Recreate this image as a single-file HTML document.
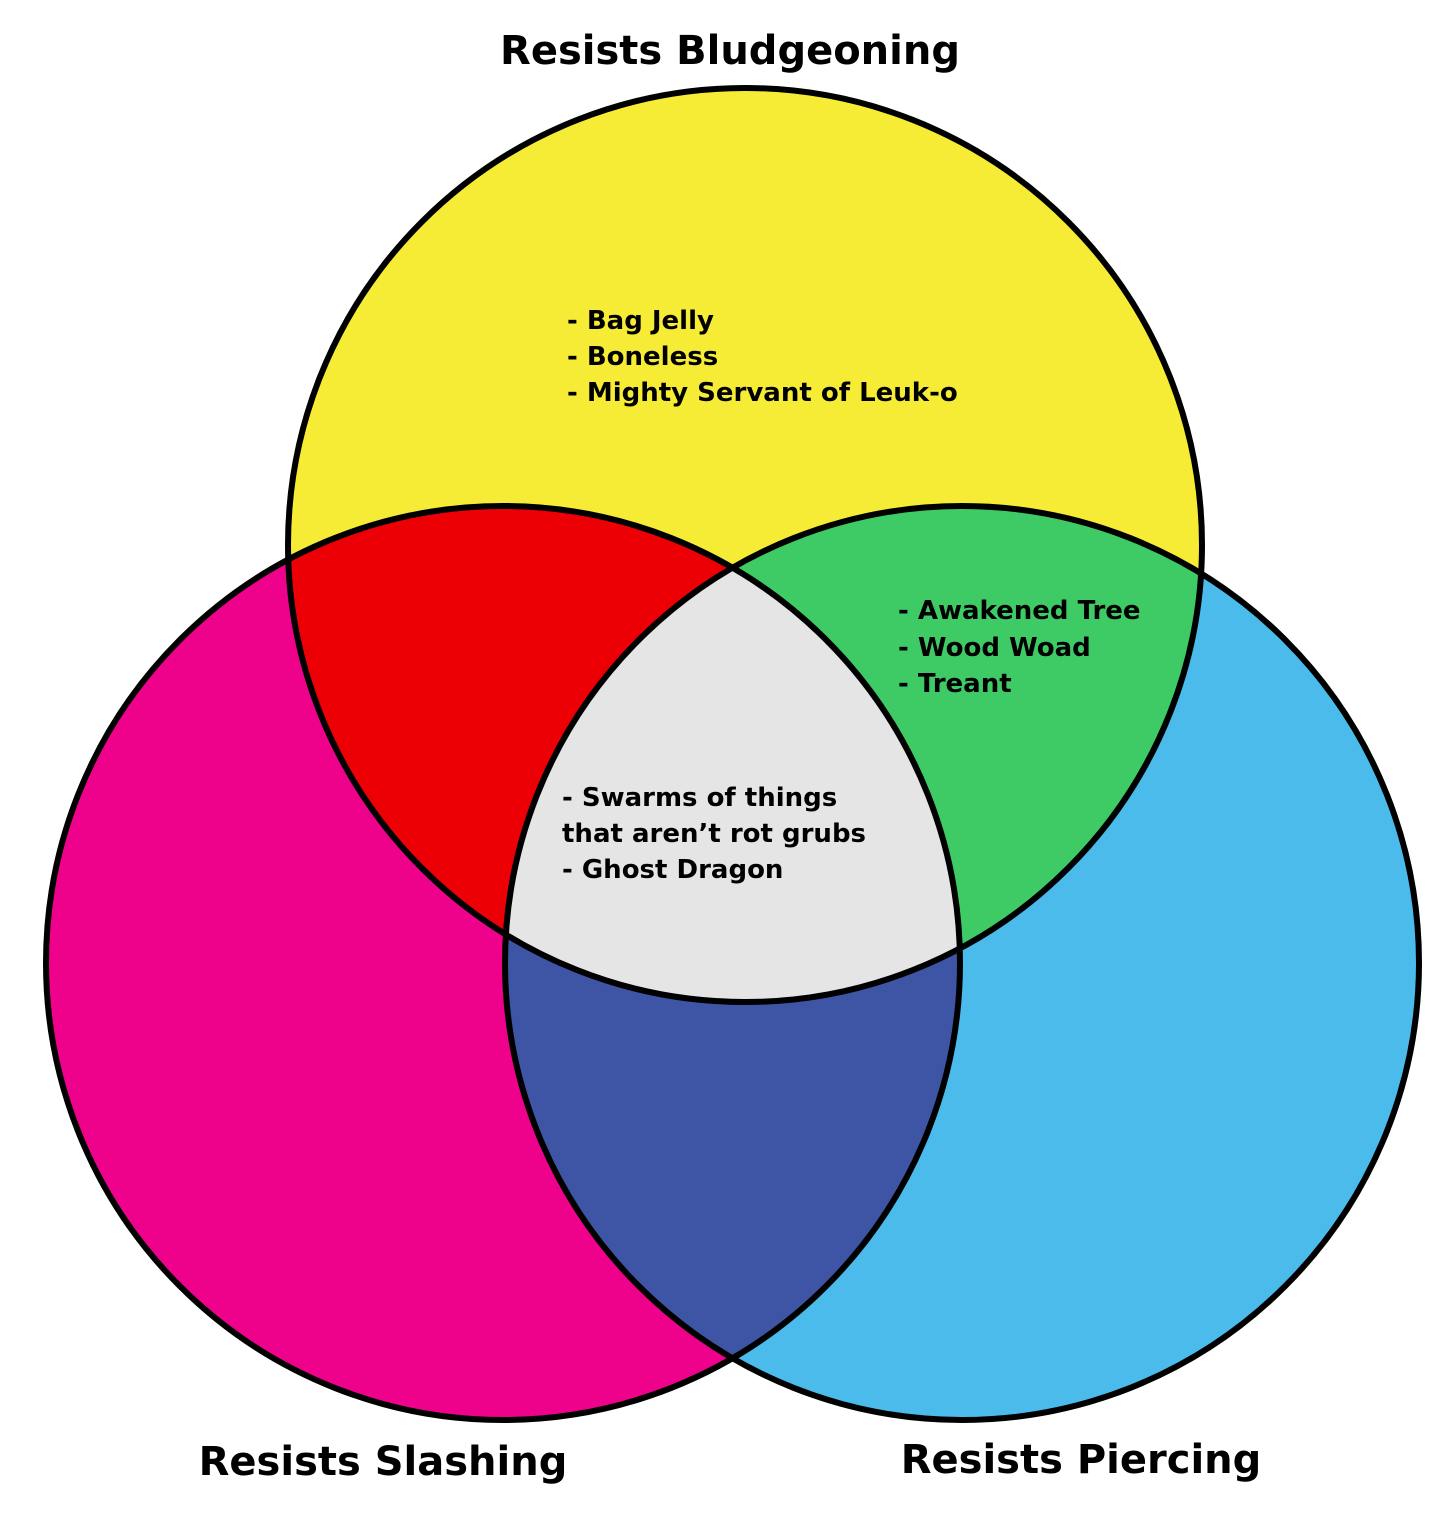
<!DOCTYPE html>
<html><head><meta charset="utf-8"><style>
html,body{margin:0;padding:0;background:#fff;}
svg{display:block;}
text{font-family:"DejaVu Sans","Liberation Sans",sans-serif;font-weight:bold;fill:#000;}
</style></head><body>
<svg width="1456" height="1527" viewBox="0 0 1456 1527" xmlns="http://www.w3.org/2000/svg">
<defs>
<clipPath id="cT"><circle cx="745" cy="545" r="457"/></clipPath>
<clipPath id="cL"><circle cx="503" cy="963" r="457"/></clipPath>
<clipPath id="cR"><circle cx="962" cy="963" r="457"/></clipPath>
</defs>
<rect width="1456" height="1527" fill="#fff"/>
<circle cx="745" cy="545" r="457" fill="#F7EC35"/>
<circle cx="503" cy="963" r="457" fill="#EE028B"/>
<circle cx="962" cy="963" r="457" fill="#4ABBEB"/>
<g clip-path="url(#cT)"><circle cx="503" cy="963" r="457" fill="#EC0006"/><circle cx="962" cy="963" r="457" fill="#3ECB66"/></g>
<g clip-path="url(#cL)"><circle cx="962" cy="963" r="457" fill="#3E55A5"/></g>
<g clip-path="url(#cL)"><g clip-path="url(#cR)"><circle cx="745" cy="545" r="457" fill="#E5E5E5"/></g></g>
<g fill="none" stroke="#000" stroke-width="6">
<circle cx="745" cy="545" r="457"/>
<circle cx="503" cy="963" r="457"/>
<circle cx="962" cy="963" r="457"/>
</g>
<text x="730" y="64" font-size="40" text-anchor="middle">Resists Bludgeoning</text>
<text x="383" y="1475" font-size="40" text-anchor="middle">Resists Slashing</text>
<text x="1081" y="1473" font-size="40" text-anchor="middle">Resists Piercing</text>
<g font-size="26">
<text x="567" y="329">- Bag Jelly</text>
<text x="567" y="365">- Boneless</text>
<text x="567" y="401">- Mighty Servant of Leuk-o</text>
<text x="898" y="619">- Awakened Tree</text>
<text x="898" y="656">- Wood Woad</text>
<text x="898" y="692">- Treant</text>
<text x="562" y="806">- Swarms of things</text>
<text x="562" y="842">that aren’t rot grubs</text>
<text x="562" y="878">- Ghost Dragon</text>
</g>
</svg>
</body></html>
